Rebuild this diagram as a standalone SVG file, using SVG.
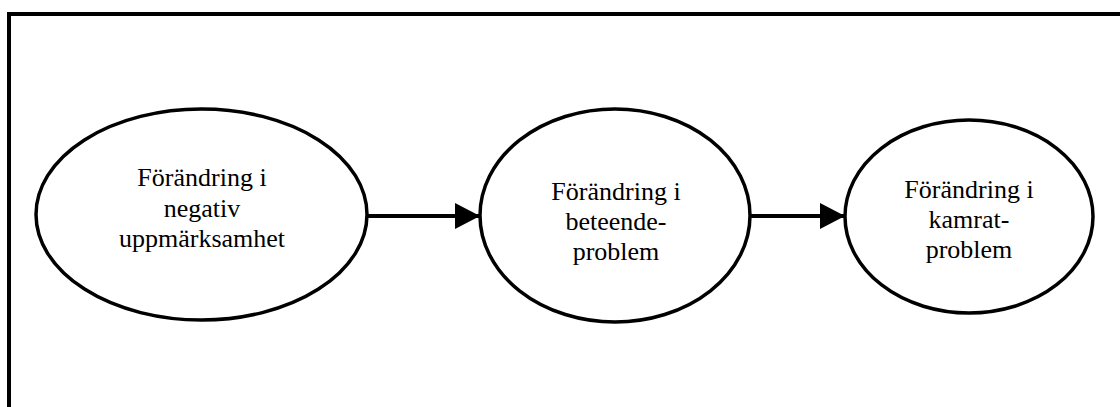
<svg xmlns="http://www.w3.org/2000/svg" width="1120" height="407" viewBox="0 0 1120 407">
<defs>
<style>
.node{fill:#fff;stroke:#000;stroke-width:3.5}
.lbl{font-family:"Liberation Serif","Times New Roman",serif;font-size:26px;fill:#000;text-anchor:middle}
.conn{stroke:#000;stroke-width:4;fill:none}
</style>
<marker id="arr" markerUnits="userSpaceOnUse" markerWidth="26" markerHeight="26" viewBox="0 0 26 26" refX="25" refY="13" orient="auto">
<path d="M0 0 L25 13 L0 26 Z" fill="#000"/>
</marker>
</defs>
<rect width="1120" height="407" fill="#fff"/>
<path d="M9 407 V14 H1120" fill="none" stroke="#000" stroke-width="4"/>
<g id="connectors">
<line class="conn" x1="367" y1="216" x2="480" y2="216" marker-end="url(#arr)"/>
<line class="conn" x1="750" y1="216" x2="845" y2="216" marker-end="url(#arr)"/>
</g>
<g id="node1">
<ellipse class="node" cx="201.5" cy="214.5" rx="165.5" ry="105.5"/>
<text class="lbl" x="202" y="186">Förändring i</text>
<text class="lbl" x="202" y="217">negativ</text>
<text class="lbl" x="202" y="247">uppmärksamhet</text>
</g>
<g id="node2">
<ellipse class="node" cx="615" cy="215.5" rx="135" ry="106.5"/>
<text class="lbl" x="616" y="200">Förändring i</text>
<text class="lbl" x="616" y="230">beteende-</text>
<text class="lbl" x="616" y="260">problem</text>
</g>
<g id="node3">
<ellipse class="node" cx="969" cy="216.5" rx="124" ry="96.5"/>
<text class="lbl" x="969" y="198">Förändring i</text>
<text class="lbl" x="969" y="228">kamrat-</text>
<text class="lbl" x="969" y="258">problem</text>
</g>
</svg>
